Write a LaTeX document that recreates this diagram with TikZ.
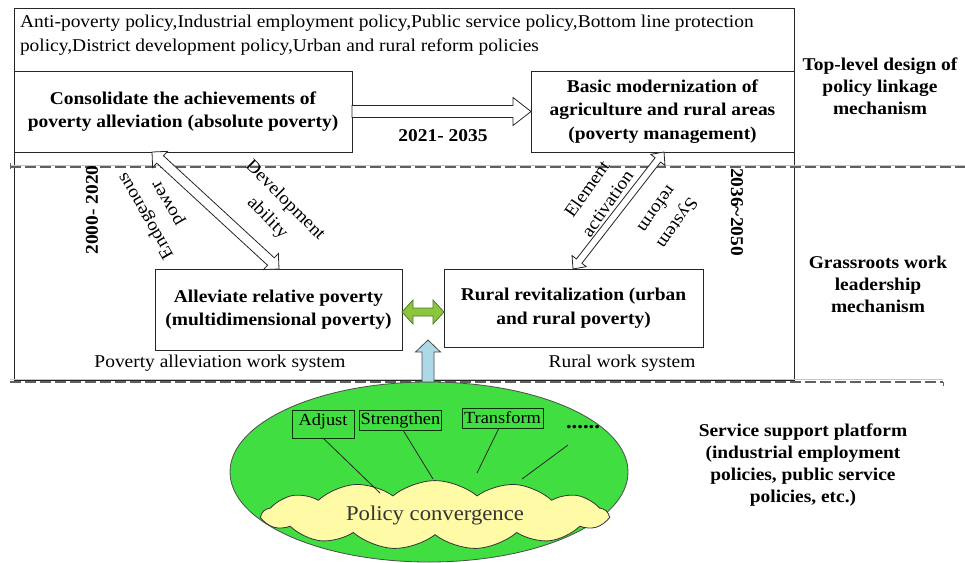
\documentclass[tikz,border=0pt]{standalone}
\usepackage{fontspec}
\setmainfont[FakeStretch=1.08]{Liberation Serif}
\usetikzlibrary{calc,shapes.geometric,shapes.symbols}

\definecolor{platformgreen}{RGB}{64,222,64}
\definecolor{cloudyellow}{RGB}{255,250,165}
\definecolor{linkgreen}{RGB}{140,198,63}
\definecolor{linkgreendark}{RGB}{80,120,40}
\definecolor{supportblue}{RGB}{173,216,230}

% hollow single-headed arrow: tail, tip, half shaft width, half head width, head length, style
\newcommand\fatarrow[6]{%
  \coordinate (fa-h) at ($(#2)!#5!(#1)$);
  \draw[#6] ($(#1)!#3!90:(#2)$) -- ($(fa-h)!#3!-90:(#1)$) -- ($(fa-h)!#4!-90:(#1)$)
    -- (#2) -- ($(fa-h)!#4!90:(#1)$) -- ($(fa-h)!#3!90:(#1)$) -- ($(#1)!#3!-90:(#2)$) -- cycle;
}
% hollow double-headed arrow: end, end, half shaft width, half head width, head length, style
\newcommand\fatlinkboth[6]{%
  \coordinate (fb-a) at ($(#1)!#5!(#2)$);
  \coordinate (fb-b) at ($(#2)!#5!(#1)$);
  \draw[#6] (#1) -- ($(fb-a)!#4!90:(#2)$) -- ($(fb-a)!#3!90:(#2)$)
    -- ($(fb-b)!#3!-90:(#1)$) -- ($(fb-b)!#4!-90:(#1)$) -- (#2)
    -- ($(fb-b)!#4!90:(#1)$) -- ($(fb-b)!#3!90:(#1)$)
    -- ($(fb-a)!#3!-90:(#2)$) -- ($(fb-a)!#4!-90:(#2)$) -- cycle;
}

\begin{document}
\begin{tikzpicture}[x=1pt,y=-1pt,
  every node/.style={inner sep=0pt, outer sep=0pt},
  frame/.style={draw=black!85, line width=0.9pt},
  stagebox/.style={draw=black!85, line width=0.9pt, fill=white, align=center,
    font=\fontsize{18}{23.5}\selectfont\bfseries},
  sidelabel/.style={align=center, font=\fontsize{18}{22}\selectfont\bfseries},
  plaintext/.style={font=\fontsize{18}{24}\selectfont},
  arrowlabel/.style={align=center, font=\fontsize{18}{25}\selectfont},
  yearlabel/.style={font=\fontsize{18}{22}\selectfont\bfseries},
  hollow/.style={draw=black!85, line width=0.8pt, fill=white},
  layerline/.style={draw=gray!75!black, line width=1.1pt, dash pattern=on 11pt off 4pt},
  layershadow/.style={draw=gray!45, line width=0.6pt},
  toolbox/.style={draw=black!80!green, line width=0.9pt, font=\fontsize{17}{20}\selectfont,
    inner xsep=1pt},
  feeder/.style={draw=black!85, line width=0.8pt},
]
\useasboundingbox (0,0) rectangle (965,562);

% outer frame of the top two layers
\draw[frame] (14,8) rectangle (794,380);

% layer separators
\draw[layershadow] (10,165) -- (965,165);
\draw[layerline] (10,167) -- (965,167);
\draw[gray!75!black, line width=0.8pt] (10,163) -- (10,169);
\draw[layershadow] (10,379.5) -- (943,379.5);
\draw[layerline] (10,382) -- (943,382);
\draw[gray!75!black, line width=0.8pt] (943,382) -- (943,386);

% policy list
\node[plaintext, anchor=north west, align=left] (policies) at (20,15.5)
  {Anti-poverty policy,Industrial employment policy,Public service policy,Bottom line protection\\
   policy,District development policy,Urban and rural reform policies};

% stage boxes
\node[stagebox, minimum width=338pt, minimum height=81pt] (cons) at (183,111.5)
  {Consolidate the achievements of\\poverty alleviation (absolute poverty)};
\node[stagebox, minimum width=263pt, minimum height=81pt] (basic) at (662.5,111.5)
  {Basic modernization of\\agriculture and rural areas\\(poverty management)};
\node[stagebox, minimum width=247pt, minimum height=81pt] (relative) at (278.5,309.5)
  {Alleviate relative poverty\\(multidimensional poverty)};
\node[stagebox, minimum width=259pt, minimum height=78pt] (revital) at (573.5,308)
  {Rural revitalization (urban\\and rural poverty)};

% period arrow between the top stages
\fatarrow{cons.east}{basic.west}{6pt}{14pt}{18pt}{hollow}
\node[yearlabel] (period2) at (443,136) {2021- 2035};

% diagonal links between layers
\coordinate (la) at ([xshift=138pt]cons.south west);
\coordinate (lb) at ([xshift=124pt]relative.north west);
\fatlinkboth{la}{lb}{5pt}{11pt}{11pt}{hollow}
\coordinate (ra) at ([xshift=129pt]revital.north west);
\coordinate (rb) at ([xshift=133pt]basic.south west);
\fatlinkboth{ra}{rb}{3.5pt}{9pt}{10pt}{hollow}

% labels along the links
\node[yearlabel, rotate=90] (period1) at (92,210) {2000- 2020};
\node[arrowlabel, rotate=120] (endog) at (157,209.5) {Endogenous\\power};
\node[arrowlabel, rotate=-45] (devel) at (276,209.5) {Development\\ability};
\node[arrowlabel, rotate=55] (elem) at (597,196) {Element\\activation};
\node[arrowlabel, rotate=-125] (sysref) at (667.5,216.5) {System\\reform};
\node[yearlabel, rotate=-90] (period3) at (737,212) {2036\textasciitilde 2050};

% green link between the grassroots stages
\coordinate (gl) at ([yshift=-2.5pt]relative.east);
\coordinate (gr) at (gl -| revital.west);
\fatlinkboth{gl}{gr}{4pt}{12pt}{11pt}{draw=linkgreendark, line width=0.8pt, fill=linkgreen}

\node[plaintext] (povsys) at (220,363) {Poverty alleviation work system};
\node[plaintext] (ruralsys) at (622,363) {Rural work system};

% service support platform
\node[ellipse, draw=black!70, line width=0.8pt, fill=platformgreen,
  minimum width=398pt, minimum height=180pt] (platform) at (429,472) {};
\node[cloud, cloud puffs=13, cloud puff arc=80, aspect=5.2, draw=black!80, line width=0.8pt,
  fill=cloudyellow, minimum width=345pt, minimum height=64pt,
  font=\fontsize{21}{24}\selectfont, text=black!80] (converge) at (435,515) {Policy convergence};

\node[toolbox, minimum width=62pt, minimum height=28pt, text height=12pt, text depth=10pt,
  inner ysep=3pt] (adjust) at (323,424) {Adjust};
\node[toolbox, minimum width=81pt, minimum height=20pt] (strengthen) at (400.5,420) {Strengthen};
\node[toolbox, minimum width=81pt, minimum height=20pt] (transform) at (502.5,418) {Transform};
\node[font=\fontsize{21}{24}\selectfont\bfseries, anchor=base] (more) at (583,428) {......};

\coordinate (c1) at (380,493);
\coordinate (c2) at (433,479);
\coordinate (c3) at (477,473);
\coordinate (c4) at (522,479);
\coordinate (m0) at (568,445);
\draw[feeder] (adjust.south) -- (c1);
\draw[feeder] ([xshift=2.5pt]strengthen.south) -- (c2);
\draw[feeder] ([xshift=-3.5pt]transform.south) -- (c3);
\draw[feeder] (m0) -- (c4);

% upward support arrow
\coordinate (bluetip) at (428,340);
\coordinate (bluetail) at (bluetip |- platform.north);
\fatarrow{bluetail}{bluetip}{6pt}{12.5pt}{12pt}{draw=black!70, line width=0.8pt, fill=supportblue}

% layer names
\node[sidelabel] (toplevel) at (880,86) {Top-level design of\\policy linkage\\mechanism};
\node[sidelabel] (grassroots) at (878,284) {Grassroots work\\leadership\\mechanism};
\node[sidelabel] (service) at (803,465)
  {Service support platform\\(industrial employment\\policies, public service\\policies, etc.)};
\end{tikzpicture}
\end{document}
